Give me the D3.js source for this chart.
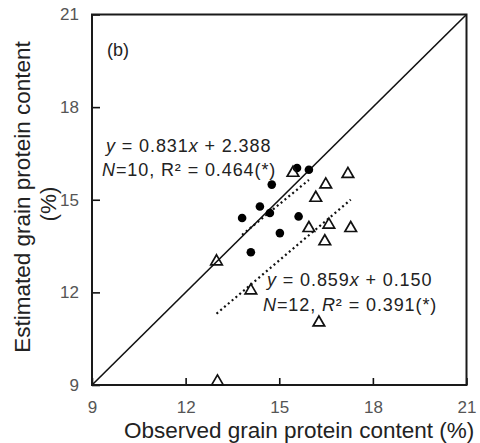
<!DOCTYPE html>
<html>
<head>
<meta charset="utf-8">
<script src="https://cdn.jsdelivr.net/npm/d3@7"></script>
<style>
  html, body { margin: 0; padding: 0; background: #fff; }
  svg { display: block; font-family: "Liberation Sans", Arial, sans-serif; }
</style>
</head>
<body>
<svg id="chart" width="480" height="443"></svg>
<script>
// ---- data ----
const ticks = [9, 12, 15, 18, 21];
const dotsX = [15.57, 15.95, 14.76, 14.38, 13.81, 14.70, 15.62, 15.02, 14.09];
const dotsY = [16.03, 15.97, 15.49, 14.78, 14.41, 14.57, 14.46, 13.92, 13.30];
const triX = [12.99, 15.44, 17.20, 16.49, 16.17, 15.95, 16.59, 17.29, 16.46, 14.09, 16.27, 13.02];
const triY = [13.00, 15.87, 15.83, 15.49, 15.06, 14.08, 14.19, 14.08, 13.65, 12.06, 11.02, 9.11];
const fit1 = { slope: 0.831, intercept: 2.388 };
const fit2 = { slope: 0.859, intercept: 0.150 };

const svg = d3.select("#chart");
const x = d3.scaleLinear().domain([9, 21]).range([92, 466.5]);
const y = d3.scaleLinear().domain([9, 21]).range([385, 14.5]);

// 1:1 line
svg.append("line")
  .attr("x1", x(9)).attr("y1", y(9)).attr("x2", x(21)).attr("y2", y(21))
  .attr("stroke", "#111").attr("stroke-width", 1.6);

// regression lines
function fitLine(f, xs) {
  const x0 = d3.min(xs), x1 = d3.max(xs);
  svg.append("line")
    .attr("x1", x(x0)).attr("y1", y(f.slope * x0 + f.intercept))
    .attr("x2", x(x1)).attr("y2", y(f.slope * x1 + f.intercept))
    .attr("stroke", "#111").attr("stroke-width", 2.2)
    .attr("stroke-dasharray", "2,3");
}
fitLine(fit1, dotsX);
fitLine(fit2, triX);

// axes
const xAxis = d3.axisBottom(x).tickValues(ticks).tickSizeInner(-7).tickSizeOuter(0).tickPadding(16);
const yAxis = d3.axisLeft(y).tickValues(ticks).tickSizeInner(-8).tickSizeOuter(0).tickPadding(14);
const gx = svg.append("g").attr("transform", `translate(0,${y(9)})`).call(xAxis);
const gy = svg.append("g").attr("transform", `translate(${x(9)},0)`).call(yAxis);
[gx, gy].forEach(g => {
  g.select(".domain").remove();
  g.selectAll(".tick line").attr("stroke", "#111").attr("stroke-width", 1.6);
  g.selectAll(".tick text").attr("fill", "#555").style("font-size", "17px")
    .style("font-family", "'Liberation Sans', Arial, sans-serif");
});
gx.selectAll(".tick text").attr("dy", "0.71em").attr("y", 16);
gy.selectAll(".tick text").attr("x", -13);

// frame
svg.append("rect")
  .attr("x", x(9)).attr("y", y(21))
  .attr("width", x(21) - x(9)).attr("height", y(9) - y(21))
  .attr("fill", "none").attr("stroke", "#1a1a1a").attr("stroke-width", 2);

// points
svg.append("g").selectAll("circle").data(d3.range(dotsX.length)).join("circle")
  .attr("cx", i => x(dotsX[i])).attr("cy", i => y(dotsY[i])).attr("r", 4.3)
  .attr("fill", "#000");
const tri = d3.symbol().type(d3.symbolTriangle).size(58);
svg.append("g").selectAll("path").data(d3.range(triX.length)).join("path")
  .attr("d", tri)
  .attr("transform", i => `translate(${x(triX[i])},${y(triY[i])})`)
  .attr("fill", "none").attr("stroke", "#111").attr("stroke-width", 1.7);

// labels
const txt = (sx, sy, size) => svg.append("text").attr("x", sx).attr("y", sy)
  .attr("fill", "#222").style("font-size", size + "px");

txt(107, 56, 18).text("(b)");

const e1 = txt(106, 152, 18).style("letter-spacing", "0.9px");
e1.append("tspan").style("font-style", "italic").text("y");
e1.append("tspan").text(" = 0.831");
e1.append("tspan").style("font-style", "italic").text("x");
e1.append("tspan").text(" + 2.388");
const e2 = txt(102, 176, 18).style("letter-spacing", "0.9px");
e2.append("tspan").style("font-style", "italic").text("N");
e2.append("tspan").text("=10, R² = 0.464(*)");

const e3 = txt(267, 286, 18).style("letter-spacing", "0.9px");
e3.append("tspan").style("font-style", "italic").text("y");
e3.append("tspan").text(" = 0.859");
e3.append("tspan").style("font-style", "italic").text("x");
e3.append("tspan").text(" + 0.150");
const e4 = txt(263, 311, 18).style("letter-spacing", "0.9px");
e4.append("tspan").style("font-style", "italic").text("N");
e4.append("tspan").text("=12, ");
e4.append("tspan").style("font-style", "italic").text("R");
e4.append("tspan").text("² = 0.391(*)");

// axis titles
txt(124, 438, 22.5).text("Observed grain protein content (%)");
svg.append("text")
  .attr("transform", "translate(22,197) rotate(-90)")
  .attr("text-anchor", "middle").attr("dy", "0.35em")
  .attr("fill", "#222").style("font-size", "22.5px")
  .text("Estimated grain protein content");
svg.append("text")
  .attr("transform", "translate(48,204) rotate(-90)")
  .attr("text-anchor", "middle").attr("dy", "0.35em")
  .attr("fill", "#222").style("font-size", "22.5px")
  .text("(%)");
</script>
</body>
</html>
